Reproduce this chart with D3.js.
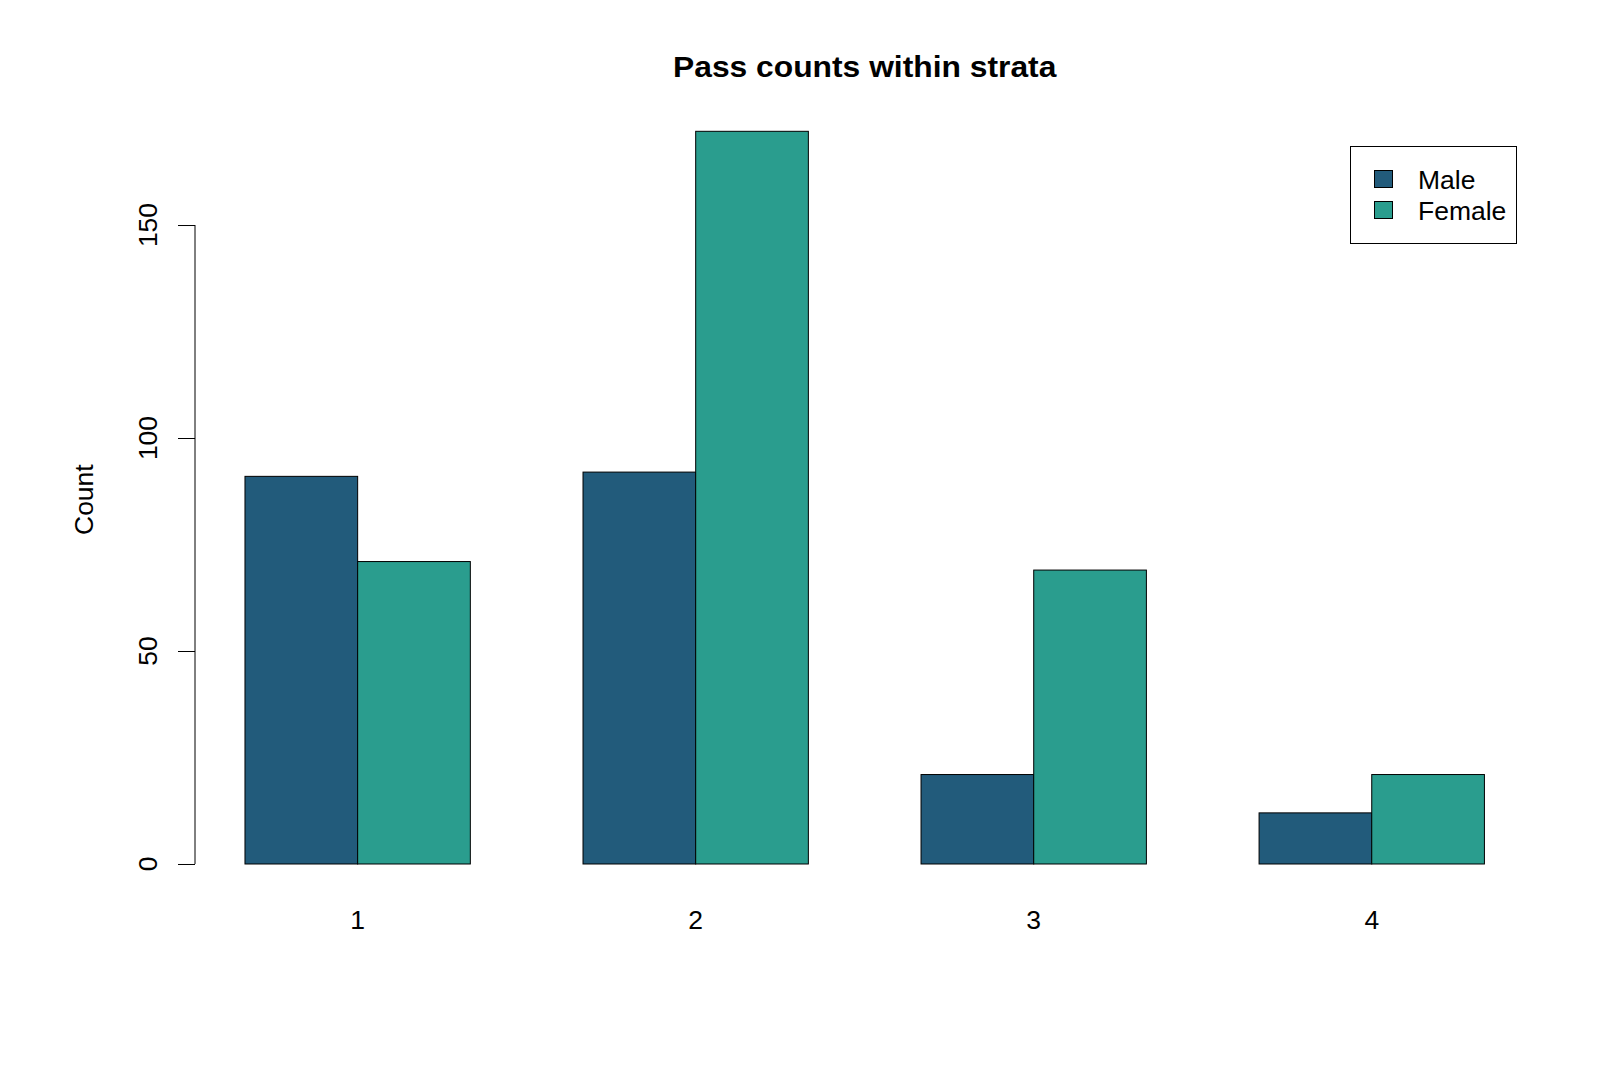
<!DOCTYPE html>
<html>
<head>
<meta charset="utf-8">
<script src="https://cdn.jsdelivr.net/npm/d3@7"></script>
<style>
  body { margin: 0; background: #fff; }
  text { font-family: "Liberation Sans", Arial, sans-serif; fill: #000; }
</style>
</head>
<body>
<div id="chart"></div>
<script>
// data
const strata = ['1', '2', '3', '4'];
const sexes = ['Male', 'Female'];
const maleCounts = [91, 92, 21, 12];
const femaleCounts = [71, 172, 69, 21];
const yTicks = [0, 50, 100, 150];

const colors = {Male: '#225b7b', Female: '#2a9d8e'};

const svgWidth = 1600;
const svgHeight = 1067;
const stretch = 'scale(1.06,1)'; // text in the original is a bit wide

const svg = d3.select('#chart').append('svg')
    .attr('width', svgWidth).attr('height', svgHeight);

// plot region (R style, axes extended by 4%)
const plot = {left: 195.4, right: 1534, top: 102, bottom: 893.3};

// bar units: 4 groups of 2 bars, 1 unit gap before each group -> units 1..12
const unitScale = d3.scaleLinear().domain([0.56, 12.44]).range([plot.left, plot.right]);

const xGroup = d3.scaleBand()
    .domain(strata)
    .range([unitScale(0), unitScale(13)])
    .paddingInner(1 / 3)
    .paddingOuter(1 / 3);

const xSex = d3.scaleBand()
    .domain(sexes)
    .range([0, xGroup.bandwidth()]);

const yScale = d3.scaleLinear()
    .domain([-6.88, 178.88])
    .range([plot.bottom, plot.top]);

const rows = strata.map((s, i) => ({stratum: s, Male: maleCounts[i], Female: femaleCounts[i]}));

// bars
const groups = svg.append('g').selectAll('g')
    .data(rows).enter()
    .append('g')
    .attr('transform', d => `translate(${xGroup(d.stratum)},0)`);

groups.selectAll('rect')
    .data(d => sexes.map(k => ({key: k, value: d[k]})))
    .enter().append('rect')
    .attr('x', d => xSex(d.key))
    .attr('width', xSex.bandwidth())
    .attr('y', d => yScale(d.value))
    .attr('height', d => yScale(0) - yScale(d.value))
    .attr('fill', d => colors[d.key])
    .attr('stroke', '#000')
    .attr('stroke-width', 1);

// y axis
const leftAxis = d3.axisLeft(yScale)
    .tickValues(yTicks)
    .tickSize(17)
    .tickFormat('');

const yAxis = svg.append('g')
    .attr('transform', `translate(${plot.left - 0.4},0)`)
    .call(leftAxis);
yAxis.select('.domain')
    .attr('d', `M0,${yScale(0)}V${yScale(150)}`)
    .attr('stroke', '#000');
yAxis.selectAll('.tick line').attr('stroke', '#000');

svg.append('g').selectAll('text')
    .data(yTicks).enter()
    .append('text')
    .attr('transform', d => `translate(157,${yScale(d)}) rotate(-90) ${stretch}`)
    .attr('text-anchor', 'middle')
    .style('font-size', '25px')
    .text(d => d);

// x labels (no axis line, like barplot)
svg.append('g').selectAll('text')
    .data(strata).enter()
    .append('text')
    .attr('transform', d => `translate(${xGroup(d) + xGroup.bandwidth() / 2},929) ${stretch}`)
    .attr('text-anchor', 'middle')
    .style('font-size', '25px')
    .text(d => d);

// y label
svg.append('text')
    .attr('transform', `translate(93,${(plot.top + plot.bottom) / 2 + 2}) rotate(-90) ${stretch}`)
    .attr('text-anchor', 'middle')
    .style('font-size', '25px')
    .text('Count');

// title
svg.append('text')
    .attr('transform', `translate(${(plot.left + plot.right) / 2},77) ${stretch}`)
    .attr('text-anchor', 'middle')
    .style('font-size', '30px')
    .style('font-weight', 'bold')
    .text('Pass counts within strata');

// legend
const legend = svg.append('g');
legend.append('rect')
    .attr('x', 1350.5).attr('y', 146.5)
    .attr('width', 166).attr('height', 97)
    .attr('fill', '#fff').attr('stroke', '#000');

const legendItems = legend.selectAll('g.item')
    .data(sexes).enter()
    .append('g').attr('class', 'item')
    .attr('transform', (d, i) => `translate(0,${i * 31})`);

legendItems.append('rect')
    .attr('x', 1374.5).attr('y', 170.5)
    .attr('width', 18).attr('height', 17)
    .attr('fill', d => colors[d])
    .attr('stroke', '#000');

legendItems.append('text')
    .attr('transform', `translate(1418,189) ${stretch}`)
    .style('font-size', '25px')
    .text(d => d);
</script>
</body>
</html>
